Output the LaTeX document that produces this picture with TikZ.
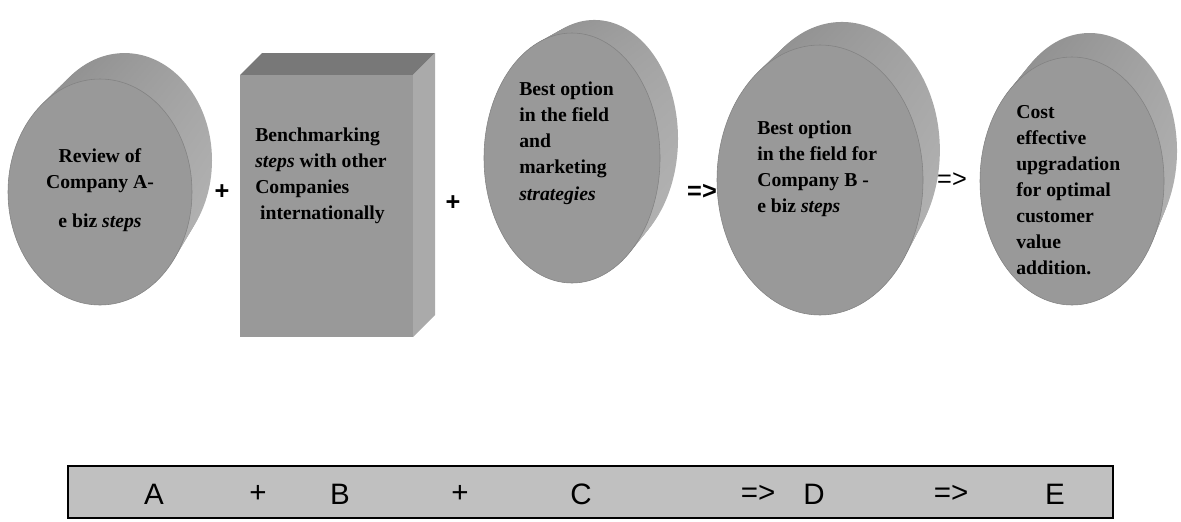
\documentclass[tikz,border=0pt]{standalone}
\usepackage{fontspec}
\setmainfont{Liberation Serif}
\newfontfamily\sansfont{Liberation Sans}
\usepackage{xcolor}
\usetikzlibrary{positioning}
\usetikzlibrary{shadings}
\definecolor{frontgray}{RGB}{153,153,153}
\definecolor{sidegray}{RGB}{165,165,165}
\definecolor{sidedark}{RGB}{138,138,138}
\definecolor{sidelight}{RGB}{182,182,182}
\definecolor{boxtop}{RGB}{120,120,120}
\definecolor{boxside}{RGB}{170,170,170}
\definecolor{barfill}{RGB}{192,192,192}
\newcommand{\disc}[6]{ % Takes centre x, centre y, x radius, y radius, depth shift x, depth shift y as arguments
    \foreach \k in {10,9,...,1}
        \shade[upper left=sidedark, upper right=sidegray, lower left=sidegray, lower right=sidelight]
            ({#1+(#5)*\k/10},{#2+(#6)*\k/10}) ellipse [x radius={#3*(1-0.05*\k/10)}, y radius={#4*(1-0.05*\k/10)}];
    \draw[frontgray!85!black, fill=frontgray] (#1,#2) ellipse [x radius=#3, y radius=#4];
}

\begin{document}
\begin{tikzpicture}[x=0.025cm, y=-0.025cm,
        steptext/.style={font=\fontsize{14}{18.5}\selectfont\bfseries, inner sep=0pt, align=left, anchor=north west},
        op/.style={font=\sansfont\fontsize{18}{18}\selectfont\bfseries, inner sep=0pt},
        barletter/.style={font=\sansfont\fontsize{21}{21}\selectfont, inner sep=0pt}]
                \useasboundingbox (0,0) rectangle (1181,521);

                % Disc A
                \disc{100}{192}{92}{113}{24.6}{-31.6}
                \node[steptext, anchor=north, align=center] (reviewA) at (100,148) {Review of\\Company A-\\[0.33cm]e biz \textit{steps}};

                % Box B
                \fill[boxtop] (240,75) -- (262,53) -- (435,53) -- (413,75) -- cycle;
                \fill[boxside] (413,75) -- (435,53) -- (435,315) -- (413,337) -- cycle;
                \fill[frontgray] (240,75) rectangle (413,337);
                \node[steptext] (benchB) at (255,128) {Benchmarking\\\textit{steps} with other\\Companies\\\hspace*{0.12cm}internationally};

                % Disc C
                \disc{572}{158}{88}{125}{22.4}{-19.3}
                \node[steptext] (bestC) at (519,82) {Best option\\in the field\\and\\marketing\\\textit{strategies}};

                % Disc D
                \disc{820}{180}{103}{135}{22}{-29.8}
                \node[steptext] (bestD) at (757,121) {Best option\\in the field for\\Company B -\\e biz \textit{steps}};

                % Disc E
                \disc{1072}{181}{92}{124}{17.6}{-30.2}
                \node[steptext] (costE) at (1016,105) {Cost\\effective\\upgradation\\for optimal\\customer\\value\\addition.};

                % Operators between the steps
                \node[op] (plusAB) at (222,192) {+};
                \node[op] (plusBC) at (453,203) {+};
                \node[op] (thenCD) at (702,192) {=>};
                \node[op, font=\sansfont\fontsize{18}{18}\selectfont] (thenDE) at (952,180) {=>};

                % Summary bar
                \draw[line width=1pt, fill=barfill] (68,466) rectangle (1113,518);
                \node[barletter] (barA) at (154,494) {A};
                \node[barletter] (barP1) at (258,494) {+};
                \node[barletter] (barB) at (340,494) {B};
                \node[barletter] (barP2) at (460,494) {+};
                \node[barletter] (barC) at (581,494) {C};
                \node[barletter] (barT1) at (758,494) {=>};
                \node[barletter] (barD) at (814,494) {D};
                \node[barletter] (barT2) at (951,494) {=>};
                \node[barletter] (barE) at (1055,494) {E};
\end{tikzpicture}
\end{document}
